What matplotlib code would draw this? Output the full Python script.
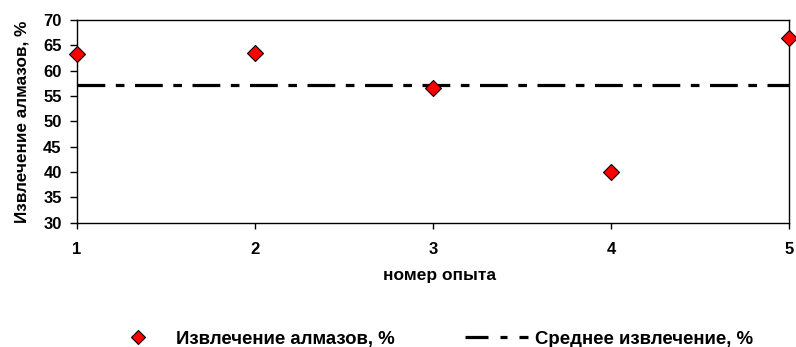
import matplotlib
matplotlib.use("Agg")
import matplotlib.pyplot as plt
from matplotlib.legend_handler import HandlerLine2D
import numpy as np

# experiment data
trial = [1, 2, 3, 4, 5]
recovery = [63.3, 63.5, 56.6, 40.0, 66.4]
mean_recovery = 57.2
yticks = [30, 35, 40, 45, 50, 55, 60, 65, 70]

plt.rcParams['font.family'] = ['Liberation Sans', 'DejaVu Sans']
plt.rcParams['font.weight'] = 'bold'

fig = plt.figure(figsize=(7.96, 3.47), dpi=100)
ax = fig.add_axes([0.0967, 0.358, 0.8945, 0.584])

ax.plot(trial, recovery, linestyle='none', marker='D', markersize=8,
        markerfacecolor='#ff0000', markeredgecolor='black', markeredgewidth=0.8,
        clip_on=False, zorder=5, label='Извлечение алмазов, %')
mean_line, = ax.plot([trial[0], trial[-1]], [mean_recovery, mean_recovery], color='black',
                     linewidth=2.3, dashes=(8.7, 3.3, 2.7, 3.3), solid_capstyle='butt',
                     label='Среднее извлечение, %')

ax.set_xlim(1, 5)
ax.set_ylim(30, 70)
ax.set_xticks(trial)
ax.set_yticks(yticks)
ax.tick_params(axis='x', direction='out', length=4, width=1, labelsize=12, pad=9.5)
ax.tick_params(axis='y', direction='out', length=5, width=1, labelsize=12, pad=6)
for lab in ax.get_xticklabels() + ax.get_yticklabels():
    lab.set_fontweight('bold')
for sp in ax.spines.values():
    sp.set_linewidth(1.0)
    sp.set_color('black')

ax.set_xlabel('номер опыта', fontsize=12.5, fontweight='bold', va='center')
ax.xaxis.set_label_coords(0.509, -0.262)
ax.set_ylabel('Извлечение алмазов, %', fontsize=12.3, fontweight='bold', va='center')
ax.yaxis.set_label_coords(-0.077, 0.497)


# shorter handle needs its own dash pattern: long - short - long
def legend_dashes(handle, orig):
    handle.update_from(orig)
    handle.set_dashes((7.2, 3.75, 2.2, 3.75))


fig.legend(loc='center left', bbox_to_anchor=(0.113, 0.023), ncol=2, frameon=False,
           handlelength=3.4, handletextpad=0.35, columnspacing=3.76, markerscale=0.85,
           handler_map={mean_line: HandlerLine2D(update_func=legend_dashes)},
           prop={'weight': 'bold', 'size': 13.4})

fig.savefig('out.png', dpi=100)
